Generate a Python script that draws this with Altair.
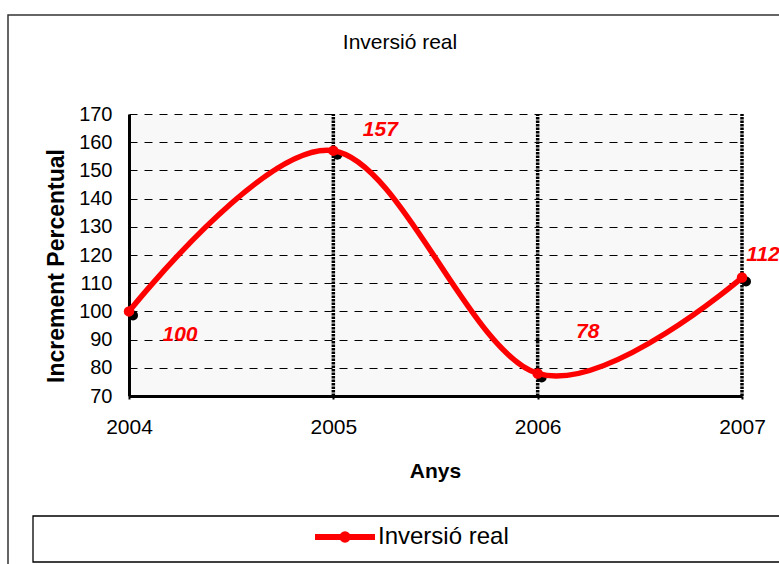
import altair as alt
import pandas as pd

# ---- data ----
years = [2004, 2005, 2006, 2007]
values = [100, 157, 78, 112]
value_labels = ["100", "157", "78", "112"]
series_name = "Inversió real"
chart_title = "Inversió real"
x_title = "Anys"
y_title = "Increment Percentual"
y_ticks = [70, 80, 90, 100, 110, 120, 130, 140, 150, 160, 170]

df = pd.DataFrame({
    "year": years,
    "value": values,
    "label": value_labels,
    "serie": [series_name] * len(years),
})

FONT = "Liberation Sans"
RED = "#ff0000"

W, H = 613, 282
PAD_L, PAD_T = 129, 114
PAD_R, PAD_B = 779 - PAD_L - W, 564 - PAD_T - H

x_scale = alt.Scale(domain=[years[0], years[-1]], nice=False, zero=False)
y_scale = alt.Scale(domain=[y_ticks[0], y_ticks[-1]], nice=False, zero=False)

x_axis = alt.Axis(
    values=years, format="d", title=x_title, grid=False,
    domainColor="black", domainWidth=3,
    tickColor="black", tickSize=3, tickWidth=2,
    labelFontSize=21, labelFont=FONT, labelColor="black", labelPadding=17,
    labelFlush=False, labelOverlap=False,
    titleFontSize=21, titleFont=FONT, titleFontWeight="bold", titleColor="black",
    titleX=306, titleY=81, titleBaseline="alphabetic", titleAlign="center",
)
y_axis = alt.Axis(
    values=y_ticks, title=y_title, grid=True,
    gridColor="black", gridDash=[8, 7], gridWidth=1, gridOpacity=1,
    domainColor="black", domainWidth=3, ticks=False,
    labelFontSize=20, labelFont=FONT, labelColor="black", labelPadding=17,
    labelOverlap=False,
    titleFontSize=23, titleFont=FONT, titleFontWeight="bold", titleColor="black",
    titleAngle=270, titleX=-66, titleY=151.5, titleBaseline="alphabetic",
    titleAlign="center",
)

x_enc = alt.X("year:Q", scale=x_scale, axis=x_axis)
y_enc = alt.Y("value:Q", scale=y_scale, axis=y_axis)

base = alt.Chart(df)

# outer chart border and legend box (decoration)
deco = pd.DataFrame({"k": [0]})
border = alt.Chart(deco).mark_rect(
    fillOpacity=0, stroke="#333333", strokeWidth=1.5
).encode(
    x=alt.value(8 - PAD_L), x2=alt.value(W + PAD_R + 20),
    y=alt.value(15 - PAD_T), y2=alt.value(H + PAD_B + 20),
)
legend_box = alt.Chart(deco).mark_rect(
    fill="white", stroke="black", strokeWidth=1.3
).encode(
    x=alt.value(33 - PAD_L), x2=alt.value(W + PAD_R + 20),
    y=alt.value(516 - PAD_T), y2=alt.value(562 - PAD_T),
)

title_df = pd.DataFrame({"t": [chart_title]})
title = alt.Chart(title_df).mark_text(
    font=FONT, fontSize=21, color="black", align="center", baseline="alphabetic"
).encode(text="t:N", x=alt.value(400 - PAD_L), y=alt.value(49 - PAD_T))

vrules = base.transform_filter(alt.datum.year > years[0]).mark_rule(
    color="black", strokeWidth=3.5, strokeDash=[2.5, 1]
).encode(
    x=x_enc,
    y=alt.Y(datum=y_ticks[0], type="quantitative", scale=y_scale, axis=y_axis),
    y2=alt.Y2(datum=y_ticks[-1]),
)

shadow = base.mark_circle(color="black", size=100, opacity=1, xOffset=4, yOffset=4).encode(
    x=x_enc, y=y_enc
)

legend_path = "M-1,0L1,0M0.09,0A0.09,0.09,0,1,1,-0.09,0A0.09,0.09,0,1,1,0.09,0Z"
line = base.mark_line(
    strokeWidth=5.5, interpolate="cardinal", strokeCap="round", strokeJoin="round"
).encode(
    x=x_enc, y=y_enc,
    color=alt.Color(
        "serie:N",
        scale=alt.Scale(domain=[series_name], range=[RED]),
        legend=alt.Legend(
            title=None, orient="none", legendX=183, legendY=390,
            symbolType=legend_path, symbolSize=3600, symbolStrokeWidth=6,
            symbolStrokeColor=RED, symbolFillColor=RED,
            labelFontSize=24, labelFont=FONT, labelColor="black", labelOffset=0,
            padding=0,
        ),
    ),
)

dots = base.mark_circle(color=RED, size=110, opacity=1).encode(x=x_enc, y=y_enc)

label_offsets = {"100": (51, 24), "157": (47, -21), "78": (50, -41), "112": (21, -23)}
label_layers = []
for lab in value_labels:
    dx, dy = label_offsets[lab]
    label_layers.append(
        base.transform_filter(alt.datum.label == lab).mark_text(
            font=FONT, fontSize=21, fontWeight="bold", fontStyle="italic",
            color=RED, align="center", baseline="middle", dx=dx, dy=dy,
        ).encode(x=x_enc, y=y_enc, text="label:N")
    )

chart = alt.layer(
    border, legend_box, title, vrules, shadow, line, dots, *label_layers
).properties(
    width=W, height=H,
    padding={"left": PAD_L, "top": PAD_T, "right": PAD_R, "bottom": PAD_B},
    autosize=alt.AutoSizeParams(type="none"),
    background="white",
).configure_view(stroke="transparent", fill="#f8f8f8")

chart.save("out.html", embed_options={"renderer": "svg", "actions": False})
